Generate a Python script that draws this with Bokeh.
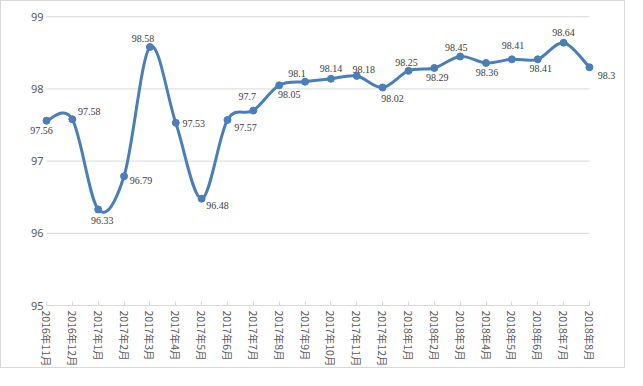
import math
from bokeh.plotting import figure
from bokeh.models import ColumnDataSource, LabelSet, Range1d, FixedTicker
from bokeh.embed import file_html
from bokeh.resources import INLINE

months = ["2016年11月", "2016年12月", "2017年1月", "2017年2月", "2017年3月", "2017年4月",
          "2017年5月", "2017年6月", "2017年7月", "2017年8月", "2017年9月", "2017年10月",
          "2017年11月", "2017年12月", "2018年1月", "2018年2月", "2018年3月", "2018年4月",
          "2018年5月", "2018年6月", "2018年7月", "2018年8月"]
values = [97.56, 97.58, 96.33, 96.79, 98.58, 97.53, 96.48, 97.57, 97.7, 98.05, 98.1,
          98.14, 98.18, 98.02, 98.25, 98.29, 98.45, 98.36, 98.41, 98.41, 98.64, 98.3]
y_ticks = [95, 96, 97, 98, 99]

# label placement offsets (screen px; dy positive = downward)
label_dx = [-5, 17, 4, 17, -7, 18, 16, 18, -6, 10, -8, 0, 7, 10, -2, 3, -4, 1, 1, 3, 0, 17]
label_dy = [10, -8, 11, 4, -9, 1, 7, 8, -14, 9, -8, -10, -6, 11, -8, 10, -9, 10, -14, 9, -10, 8]

BLUE = "#4a7ebb"
GRID = "#d9d9d9"
TXT = "#595959"

n = len(values)
xs = list(range(n))

def clampi(i):
    return max(0, min(n - 1, i))

# smooth curve (Catmull-Rom style cubic Bezier segments)
x0, y0, x1, y1, cx0, cy0, cx1, cy1 = [], [], [], [], [], [], [], []
for i in range(n - 1):
    a, b = clampi(i - 1), clampi(i + 2)
    x0.append(xs[i]); y0.append(values[i])
    x1.append(xs[i + 1]); y1.append(values[i + 1])
    cx0.append(xs[i] + (xs[i + 1] - xs[a]) / 6.0)
    cy0.append(values[i] + (values[i + 1] - values[a]) / 6.0)
    cx1.append(xs[i + 1] - (xs[b] - xs[i]) / 6.0)
    cy1.append(values[i + 1] - (values[b] - values[i]) / 6.0)

p = figure(width=625, height=368, output_backend="svg", toolbar_location=None,
           x_range=Range1d(-0.85, 22.2), y_range=Range1d(95, 99.1),
           min_border_left=23, min_border_right=6, min_border_top=8, min_border_bottom=63,
           styles={"border": "1px solid #d9d9d9"})
p.outline_line_color = None
p.xgrid.visible = False
p.ygrid.visible = False

# horizontal gridlines spanning the category extent
p.segment(x0=[0] * (len(y_ticks) - 1), y0=y_ticks[1:], x1=[n - 1] * (len(y_ticks) - 1),
          y1=y_ticks[1:], line_color=GRID, line_width=1)

p.bezier(x0=x0, y0=y0, x1=x1, y1=y1, cx0=cx0, cy0=cy0, cx1=cx1, cy1=cy1,
         line_color=BLUE, line_width=3, line_cap="round")

src = ColumnDataSource(dict(x=xs, y=values, lab=[str(v) for v in values],
                            dx=label_dx, dy=[-d for d in label_dy]))
p.scatter("x", "y", source=src, size=7, fill_color=BLUE, line_color=BLUE)

labels = LabelSet(x="x", y="y", text="lab", source=src, x_offset="dx", y_offset="dy",
                  text_align="center", text_baseline="middle", text_font_size="10px",
                  text_font="Noto Sans", text_color="#404040")
p.add_layout(labels)

ax = p.xaxis[0]
ax.ticker = FixedTicker(ticks=xs)
ax.major_label_overrides = {i: m for i, m in enumerate(months)}
ax.bounds = (0, n - 1)
ax.axis_line_color = GRID
ax.major_tick_line_color = GRID
ax.major_tick_in = 4
ax.major_tick_out = 0
ax.minor_tick_line_color = None
ax.major_label_orientation = -math.pi / 2
ax.major_label_standoff = 5
ax.major_label_text_font = "Noto Sans CJK SC"
ax.major_label_text_font_size = "10.5px"
ax.major_label_text_color = TXT

ay = p.yaxis[0]
ay.ticker = FixedTicker(ticks=y_ticks)
ay.axis_line_color = None
ay.major_tick_line_color = None
ay.minor_tick_line_color = None
ay.major_label_standoff = -25
ay.major_label_text_font = "Noto Sans"
ay.major_label_text_font_size = "11px"
ay.major_label_text_color = TXT

open("out.html", "w").write(file_html(p, INLINE))
